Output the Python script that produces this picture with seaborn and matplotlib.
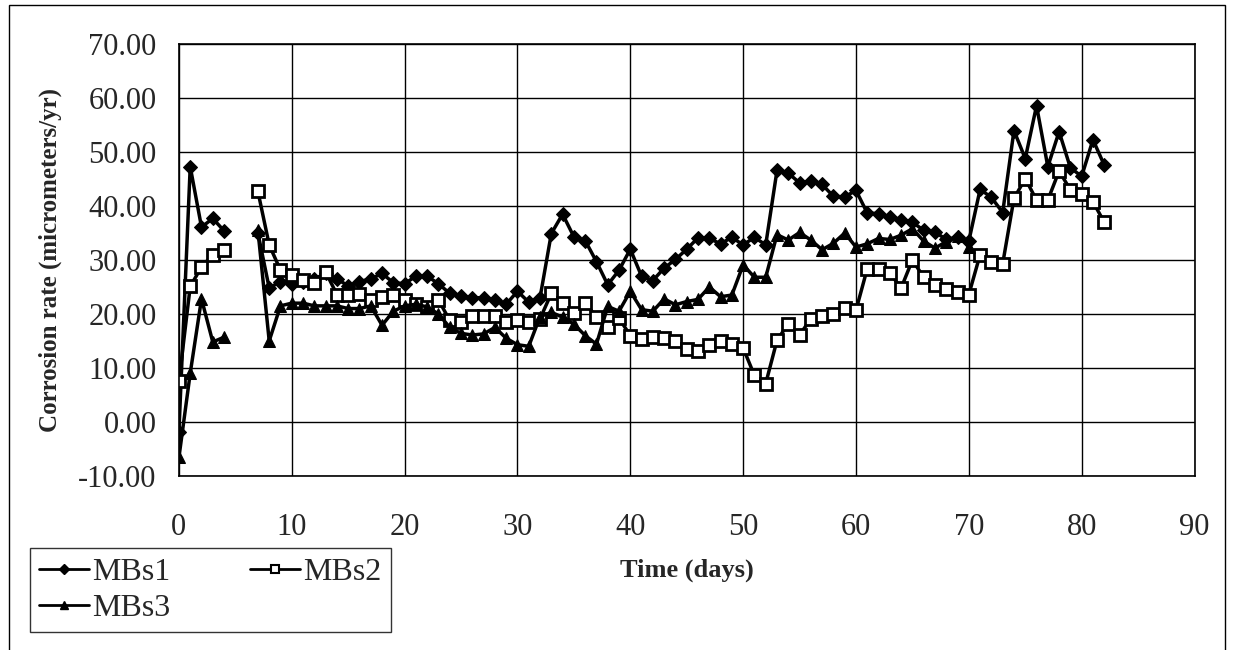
import numpy as np
import pandas as pd
import seaborn as sns
import matplotlib.pyplot as plt
from matplotlib.lines import Line2D
from matplotlib.patches import Rectangle

nan = np.nan

# days 0..82, no readings on days 5 and 6
days = list(range(0, 83))

mbs1 = [-1.8, 47.3, 36.1, 37.7, 35.4, nan, nan, 35.0, 24.8, 26.0,
        25.5, 26.0, 26.5, 27.5, 26.5, 25.2, 26.0, 26.5, 27.5, 25.8,
        25.6, 27.0, 27.0, 25.6, 23.8, 23.3, 23.0, 23.0, 22.6, 21.8,
        24.2, 22.2, 23.0, 34.9, 38.5, 34.3, 33.6, 29.7, 25.4, 28.1,
        32.0, 27.0, 26.2, 28.5, 30.1, 32.0, 34.1, 34.0, 33.0, 34.2,
        32.8, 34.2, 32.8, 46.6, 46.1, 44.3, 44.6, 44.0, 41.8, 41.7,
        42.9, 38.7, 38.6, 38.0, 37.5, 37.0, 35.5, 35.2, 33.8, 34.2,
        33.5, 43.1, 41.6, 38.8, 54.0, 48.8, 58.6, 47.3, 53.8, 47.1,
        45.5, 52.3, 47.6]

mbs2 = [7.5, 25.1, 28.7, 31.0, 31.8, nan, nan, 42.7, 32.8, 28.1,
        27.2, 26.3, 25.8, 27.8, 23.6, 23.6, 23.7, 22.5, 23.1, 23.6,
        22.5, 21.8, 21.3, 22.6, 18.8, 18.6, 19.6, 19.6, 19.6, 18.6,
        18.9, 18.6, 19.1, 23.8, 22.0, 20.2, 22.1, 19.4, 17.5, 19.2,
        16.0, 15.3, 15.8, 15.5, 14.9, 13.5, 13.1, 14.3, 14.9, 14.4,
        13.7, 8.6, 7.1, 15.1, 18.2, 16.1, 19.1, 19.7, 19.9, 21.1,
        20.7, 28.4, 28.4, 27.6, 24.8, 30.0, 26.8, 25.3, 24.7, 24.0,
        23.6, 31.0, 29.6, 29.3, 41.4, 45.1, 41.1, 41.1, 46.5, 43.0,
        42.2, 40.8, 37.0]

mbs3 = [-6.6, 9.0, 22.8, 14.8, 15.7, nan, nan, 35.5, 15.0, 21.5,
        22.0, 22.0, 21.5, 21.5, 21.5, 21.0, 21.0, 21.5, 17.9, 20.5,
        21.5, 21.8, 21.3, 20.0, 17.5, 16.4, 16.1, 16.3, 17.5, 15.5,
        14.3, 14.0, 19.5, 20.3, 19.4, 18.1, 16.0, 14.4, 21.4, 20.5,
        24.2, 20.8, 20.5, 22.8, 21.7, 22.3, 22.7, 25.0, 23.2, 23.5,
        29.1, 26.8, 26.8, 34.7, 33.7, 35.1, 33.7, 31.9, 33.1, 35.0,
        32.4, 33.0, 34.0, 33.8, 34.6, 35.8, 33.5, 32.2, 33.4, 34.5,
        32.4] + [nan] * 12

series_names = ['MBs1', 'MBs2', 'MBs3']
yticks = np.arange(-10, 71, 10)
xticks = np.arange(0, 91, 10)

sns.set_style('white')
plt.rcParams['font.family'] = ['Liberation Serif', 'DejaVu Serif']
plt.rcParams['axes.unicode_minus'] = False

rows = []
for name, vals in zip(series_names, [mbs1, mbs2, mbs3]):
    for d, v in zip(days, vals):
        if not np.isnan(v):
            rows.append({'day': d, 'rate': v, 'series': name, 'seg': 0 if d < 5 else 1})
df = pd.DataFrame(rows)

styles = {
    'MBs1': dict(marker='D', markersize=7, markerfacecolor='black'),
    'MBs2': dict(marker='s', markersize=8, markerfacecolor='white', markeredgewidth=2),
    'MBs3': dict(marker='^', markersize=9, markerfacecolor='black'),
}

fig = plt.figure(figsize=(12.34, 6.5), dpi=100)
ax = fig.add_axes([0.145, 0.268, 0.823, 0.664])

for name in series_names:
    sub = df[df['series'] == name]
    sns.lineplot(data=sub, x='day', y='rate', units='seg', estimator=None,
                 color='black', linewidth=2.5, markeredgecolor='black',
                 ax=ax, legend=False, **styles[name])

ax.set_xlim(0, 90)
ax.set_ylim(-10, 70)
ax.set_xticks(xticks)
ax.set_yticks(yticks)
ax.set_yticklabels([f'{t:.2f}' for t in yticks])
ax.grid(True, color='black', linewidth=1.0)
for s in ax.spines.values():
    s.set_color('black')
    s.set_linewidth(1.2)
ax.tick_params(axis='both', labelsize=22, length=7, width=1.2, direction='out', color='black')
ax.tick_params(axis='y', pad=9)
ax.tick_params(axis='x', pad=20)
ax.set_xlabel('Time (days)', fontsize=19, fontweight='bold', labelpad=12)
ax.set_ylabel('Corrosion rate (micrometers/yr)', fontsize=18, fontweight='bold', labelpad=12)

# legend filled column-wise: MBs1, MBs3 | MBs2
order = ['MBs1', 'MBs3', 'MBs2']
leg_sizes = {'MBs1': 5, 'MBs2': 5.5, 'MBs3': 6}
handles = []
for n in order:
    st = dict(styles[n])
    st['markersize'] = leg_sizes[n]
    if 'markeredgewidth' in st:
        st['markeredgewidth'] = 1.5
    handles.append(Line2D([], [], color='black', linewidth=2, markeredgecolor='black', **st))
leg = fig.legend(handles, order, loc='lower left', bbox_to_anchor=(0.024, 0.027),
                 ncol=2, fontsize=23, frameon=True, fancybox=False, handlelength=1.55,
                 columnspacing=2.5, handletextpad=0.1, borderpad=0.3, labelspacing=0.2,
                 borderaxespad=0)
leg.get_frame().set_edgecolor('black')
leg.get_frame().set_linewidth(1.0)

# outer chart border
fig.add_artist(Rectangle((0.007, -0.01), 0.986, 1.003, transform=fig.transFigure,
                         fill=False, edgecolor='black', linewidth=1.0))

fig.savefig('out.png', dpi=100)
